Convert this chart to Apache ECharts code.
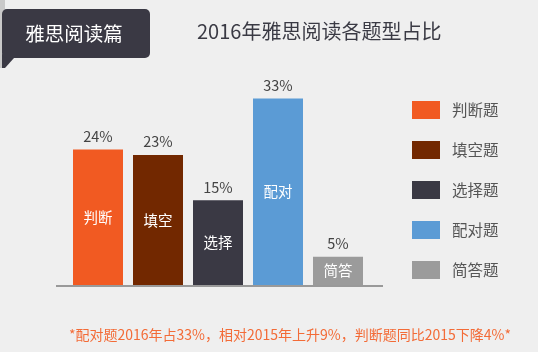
<!DOCTYPE html>
<html lang="zh">
<head>
    <meta charset="UTF-8">
    <title>2016年雅思阅读各题型占比</title>
    <script src="https://cdn.jsdelivr.net/npm/echarts@6/dist/echarts.min.js"></script>
    <style>
        html, body { margin: 0; padding: 0; background: #efefef; }
        #main { width: 538px; height: 352px; }
    </style>
</head>
<body>
    <div id="main"></div>
    <script>
        // data
        const categories = ['判断题', '填空题', '选择题', '配对题', '简答题'];
        const shortNames = ['判断', '填空', '选择', '配对', '简答'];
        const shares = [24, 23, 15, 33, 5];

        const palette = ['#f15a22', '#722800', '#3a3944', '#5b9bd5', '#9b9b9b'];
        const font = '"Noto Sans CJK SC", "Noto Sans", sans-serif';

        const chart = echarts.init(document.getElementById('main'));

        // one series per category so each gets its own legend entry
        const series = categories.map((name, i) => ({
            name: name,
            type: 'bar',
            barWidth: 50,
            barGap: '-100%',
            itemStyle: { color: palette[i] },
            label: {
                show: true,
                position: 'inside',
                color: '#fff',
                fontSize: 14.5,
                fontFamily: font,
                formatter: () => shortNames[i]
            },
            data: shares.map((v, j) => (j === i ? v : '-'))
        }));

        // invisible overlay carrying the percentage labels
        series.push({
            name: 'pct',
            type: 'bar',
            barWidth: 50,
            barGap: '-100%',
            silent: true,
            itemStyle: { color: 'transparent' },
            label: {
                show: true,
                position: 'top',
                distance: 6,
                color: '#444',
                fontSize: 14.5,
                fontFamily: font,
                formatter: p => p.value + '%'
            },
            data: shares
        });

        chart.setOption({
            backgroundColor: '#efefef',
            animation: false,
            title: {
                text: '2016年雅思阅读各题型占比',
                left: 197,
                top: 21,
                padding: 0,
                textStyle: { color: '#3a3a44', fontSize: 20, fontWeight: 'normal', fontFamily: font }
            },
            legend: {
                data: categories,
                orient: 'vertical',
                left: 412,
                top: 101,
                padding: 0,
                itemWidth: 28,
                itemHeight: 18,
                itemGap: 22,
                icon: 'rect',
                textStyle: { color: '#555', fontSize: 15.5, fontFamily: font, padding: [0, 0, 0, 7] }
            },
            grid: { left: 68, width: 300, top: 59, height: 226 },
            xAxis: {
                type: 'category',
                data: categories,
                axisLine: { show: false },
                axisTick: { show: false },
                axisLabel: { show: false }
            },
            yAxis: {
                type: 'value',
                min: 0,
                max: 40,
                show: false
            },
            series: series,
            graphic: [
                // baseline, a bit wider than the plot area
                { type: 'rect', shape: { x: 56, y: 285, width: 327, height: 2 }, style: { fill: '#999' }, z: 10 },
                // header badge
                { type: 'rect', shape: { x: 0, y: 0, width: 5, height: 68 }, style: { fill: '#c9c9c9' } },
                { type: 'polygon', shape: { points: [[2, 54], [14, 58], [5, 68], [2, 68]] }, style: { fill: '#3a3944' } },
                { type: 'rect', shape: { x: 2, y: 9, width: 148, height: 49, r: 5 }, style: { fill: '#3a3944' } },
                {
                    type: 'text', x: 74, y: 34,
                    style: { text: '雅思阅读篇', fill: '#fff', fontSize: 19.5, fontFamily: font, align: 'center', verticalAlign: 'middle' }
                },
                // footnote
                {
                    type: 'text', x: 290, y: 335,
                    style: {
                        text: '*配对题2016年占33%，相对2015年上升9%，判断题同比2015下降4%*',
                        fill: '#f36b37', fontSize: 14, fontFamily: font, align: 'center', verticalAlign: 'middle'
                    }
                }
            ]
        });

        window.addEventListener('resize', () => chart.resize());
    </script>
</body>
</html>
